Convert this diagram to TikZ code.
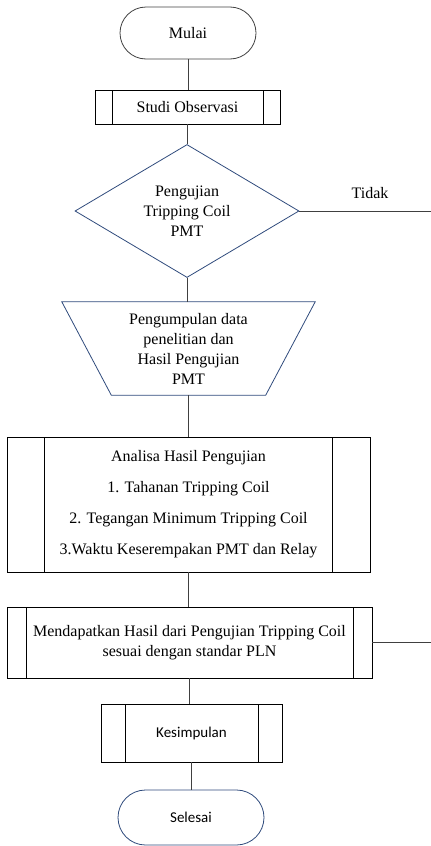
\documentclass[tikz,border=0pt]{standalone}
\usepackage{fontspec}
\setmainfont{LiberationSerif}[Extension=.ttf, UprightFont=*-Regular, BoldFont=*-Bold]
\newfontfamily\serifteks{LiberationSerif}[Extension=.ttf, UprightFont=*-Regular, BoldFont=*-Bold]
\newfontfamily\calibri{Carlito}
\usepackage{tikz}
\usetikzlibrary{shapes.geometric}
\definecolor{garisbiru}{HTML}{2F4B7C}
\definecolor{garisabu}{HTML}{404040}

\begin{document}
\begin{tikzpicture}[x=1pt, y=-1pt,
    every node/.style={font=\serifteks\fontsize{16}{20}\selectfont, align=center},
    terminal/.style={draw, rectangle, rounded corners=26pt, line width=0.8pt},
    proses/.style={draw, rectangle, line width=0.8pt, inner sep=0pt,
        path picture={
            \draw[line width=0.8pt] ([xshift=#1]path picture bounding box.north west) -- ([xshift=#1]path picture bounding box.south west);
            \draw[line width=0.8pt] ([xshift=-#1]path picture bounding box.north east) -- ([xshift=-#1]path picture bounding box.south east);
        }},
    keputusan/.style={draw=garisbiru, diamond, aspect=1.68, inner sep=0pt, line width=0.8pt},
    alur/.style={draw=garisabu, line width=0.8pt}
]
    \useasboundingbox (0,0) rectangle (431,846);
    \coordinate (tepi) at (431,0);

    \node[terminal, draw=garisabu, minimum width=136pt, minimum height=52pt] (mulai) at (188,33) {Mulai};
    \node[proses=17pt, minimum width=185pt, minimum height=34pt] (studi) at (187.5,107) {Studi Observasi};
    \node[keputusan, minimum width=224pt, minimum height=133pt] (uji) at (187,211) {Pengujian\\Tripping Coil\\PMT};
    \node (tidak) at (370,193) {Tidak};

    \node[minimum width=253pt, minimum height=93pt, inner sep=0pt] (kumpul) at (188.5,348.5) {Pengumpulan data\\penelitian dan\\Hasil Pengujian\\PMT};
    \draw[garisbiru, line width=0.8pt] (kumpul.north west) -- (kumpul.north east) -- ([xshift=-49.5pt]kumpul.south east) -- ([xshift=49.5pt]kumpul.south west) -- cycle;

    \node[proses=37.5pt, minimum width=363pt, minimum height=135pt, font=\serifteks\fontsize{16}{31}\selectfont] (analisa) at (188.5,504.5) {Analisa Hasil Pengujian\\1. Tahanan Tripping Coil\\2. Tegangan Minimum Tripping Coil\\3.Waktu Keserempakan PMT dan Relay};
    \node[proses=19pt, minimum width=365pt, minimum height=71pt] (hasil) at (189.5,642.5) {Mendapatkan Hasil dari Pengujian Tripping Coil\\sesuai dengan standar PLN};
    \node[proses=24pt, minimum width=181pt, minimum height=58pt, font=\calibri\fontsize{15}{18}\selectfont] (simpul) at (191.5,733) {Kesimpulan};
    \node[terminal, draw=garisbiru, rounded corners=27.5pt, minimum width=146pt, minimum height=55pt, font=\calibri\fontsize{15}{18}\selectfont] (selesai) at (191,817.5) {Selesai};

    \draw[alur] (mulai.south) -- (mulai.south |- studi.north);
    \draw[alur] (studi.south) -- (studi.south |- uji.north);
    \draw[alur] (uji.south) -- (uji.south |- kumpul.north);
    \draw[alur] (kumpul.south) -- (kumpul.south |- analisa.north);
    \draw[alur] (analisa.south) -- (analisa.south |- hasil.north);
    \draw[alur] (hasil.south) -- (hasil.south |- simpul.north);
    \draw[alur] (simpul.south) -- (simpul.south |- selesai.north);

    \draw[alur] (uji.east) -- (uji.east -| tepi);
    \draw[alur] (hasil.east) -- (hasil.east -| tepi);
\end{tikzpicture}
\end{document}
